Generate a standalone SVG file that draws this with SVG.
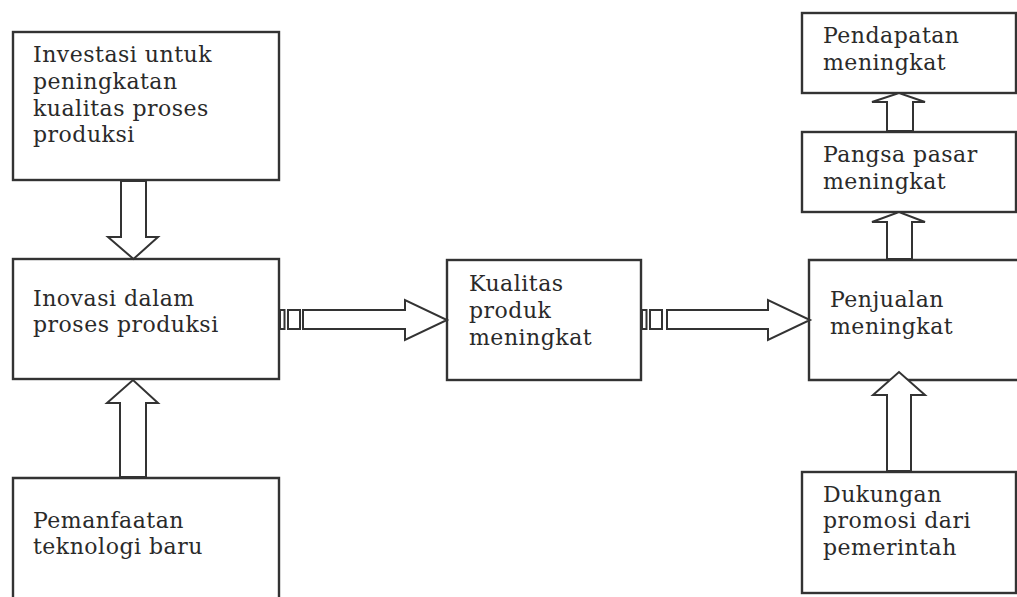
<svg xmlns="http://www.w3.org/2000/svg" width="1017" height="597" viewBox="0 0 1017 597">
<style>
.box{fill:#fff;stroke:#333;stroke-width:2.4}
.arr{fill:#fff;stroke:#333;stroke-width:2;stroke-linejoin:miter}
.t{font-family:"DejaVu Serif","Liberation Serif",serif;font-size:22px;letter-spacing:0.5px;fill:#2a2a2a}
</style>
<rect width="1017" height="597" fill="#fff"/>
<g id="n-investasi">
<rect class="box" x="13" y="32" width="266" height="148"/>
<text class="t"><tspan x="33" y="62">Investasi untuk</tspan><tspan x="33" y="89">peningkatan</tspan><tspan x="33" y="116">kualitas proses</tspan><tspan x="33" y="142">produksi</tspan></text>
</g>
<g id="n-inovasi">
<rect class="box" x="13" y="259" width="266" height="120"/>
<text class="t"><tspan x="33" y="306">Inovasi dalam</tspan><tspan x="33" y="332">proses produksi</tspan></text>
</g>
<g id="n-pemanfaatan">
<path class="box" d="M13,610 V478 H279 V610"/>
<text class="t"><tspan x="33" y="528">Pemanfaatan</tspan><tspan x="33" y="554">teknologi baru</tspan></text>
</g>
<g id="n-kualitas">
<rect class="box" x="447" y="260" width="194" height="120"/>
<text class="t"><tspan x="469" y="291">Kualitas</tspan><tspan x="469" y="318">produk</tspan><tspan x="469" y="345">meningkat</tspan></text>
</g>
<g id="n-penjualan">
<path class="box" d="M1030,260 H809 V380 H1030"/>
<text class="t"><tspan x="830" y="307">Penjualan</tspan><tspan x="830" y="334">meningkat</tspan></text>
</g>
<g id="n-dukungan">
<rect class="box" x="802" y="472" width="214" height="121"/>
<text class="t"><tspan x="823" y="502">Dukungan</tspan><tspan x="823" y="528">promosi dari</tspan><tspan x="823" y="555">pemerintah</tspan></text>
</g>
<g id="n-pendapatan">
<rect class="box" x="802" y="13" width="214" height="80"/>
<text class="t"><tspan x="823" y="43">Pendapatan</tspan><tspan x="823" y="70">meningkat</tspan></text>
</g>
<g id="n-pangsa">
<rect class="box" x="802" y="132" width="214" height="80"/>
<text class="t"><tspan x="823" y="162">Pangsa pasar</tspan><tspan x="823" y="189">meningkat</tspan></text>
</g>
<g id="connectors">
<polygon class="arr" points="121,181 121,237 108,237 133.5,259 158,237 146,237 146,181"/>
<polygon class="arr" points="120,477 120,403 107,403 133,380 158,403 146,403 146,477"/>
<rect class="arr" x="280" y="310" width="4.5" height="19"/>
<rect class="arr" x="288" y="310" width="12" height="19"/>
<polygon class="arr" points="303,310 405,310 405,300 447,320 405,340 405,329 303,329"/>
<rect class="arr" x="642" y="310" width="4.5" height="19"/>
<rect class="arr" x="650" y="310" width="12" height="19"/>
<polygon class="arr" points="667,310 768,310 768,300 810,320 768,340 768,329 667,329"/>
<polygon class="arr" points="887,471 887,395 873,395 899,372 925,395 911,395 911,471"/>
<polygon class="arr" points="887,259 887,222 872,222 899,212 925,222 912,222 912,259"/>
<polygon class="arr" points="887,131 887,102 872,102 899,93 925,102 913,102 913,131"/>
</g>
</svg>
